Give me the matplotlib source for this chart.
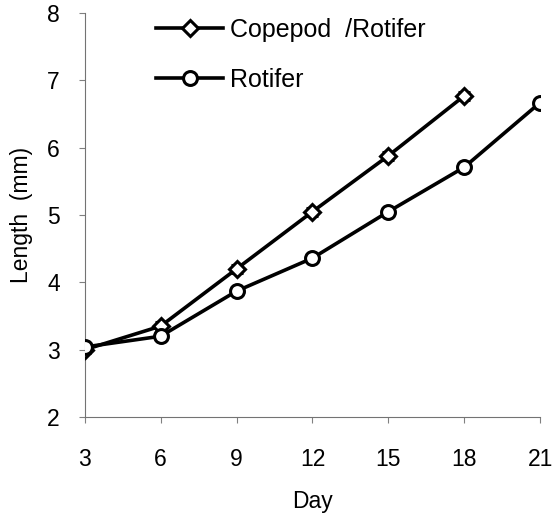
import numpy as np
import matplotlib.pyplot as plt
from matplotlib.lines import Line2D

plt.rcParams['font.family'] = ['Liberation Sans', 'DejaVu Sans']

# Datos
dias = [3, 6, 9, 12, 15, 18, 21]
copepodo = [3.0, 3.35, 4.2, 5.05, 5.88, 6.77]
rotifero = [3.04, 3.2, 3.87, 4.36, 5.05, 5.71, 6.67]
err_copepodo = [0.05, 0.06, 0.06, 0.06, 0.06, 0.06]
err_rotifero = [0.05, 0.06, 0.06, 0.06, 0.06, 0.06, 0.06]

fig = plt.figure(figsize=(5.54, 5.2), dpi=100)
ax = fig.add_axes([0.153, 0.198, 0.822, 0.777])

estilo_d = dict(color='black', lw=2.6, marker='D', ms=8, mfc='white', mec='black', mew=2.2)
estilo_o = dict(color='black', lw=2.6, marker='o', ms=10, mfc='white', mec='black', mew=2.2)

# Copepodo / Rotifero
ax.errorbar(dias[:6], copepodo, yerr=err_copepodo, capsize=4, elinewidth=1.5,
            capthick=1.5, zorder=3, **estilo_d)
# Rotifero
ax.errorbar(dias, rotifero, yerr=err_rotifero, capsize=4, elinewidth=1.5,
            capthick=1.5, zorder=3, **estilo_o)

ax.set_xlim(3, 21)
ax.set_ylim(2, 8)
ax.set_xticks(dias)
ax.set_yticks(range(2, 9))
ax.tick_params(axis='both', labelsize=16.5, color='0.5', length=4, width=0.8)
ax.tick_params(axis='x', pad=18)
ax.tick_params(axis='y', pad=14)

for lado in ['top', 'right']:
    ax.spines[lado].set_visible(False)
for lado in ['left', 'bottom']:
    ax.spines[lado].set_color('0.45')
    ax.spines[lado].set_linewidth(0.8)
    ax.spines[lado].set_linestyle((0, (6, 1, 1, 1)))

ax.set_xlabel('Day', fontsize=16.5, labelpad=14)
ax.set_ylabel('Length  (mm)', fontsize=16.5, labelpad=10)

manijas = [Line2D([], [], **estilo_d), Line2D([], [], **estilo_o)]
ax.legend(manijas, ['Copepod  /Rotifer', 'Rotifer'], loc='upper left',
          bbox_to_anchor=(0.107, 1.043), frameon=False, fontsize=18,
          handlelength=2.7, handletextpad=0.25, labelspacing=1.03)

plt.savefig('out.png', dpi=100)
